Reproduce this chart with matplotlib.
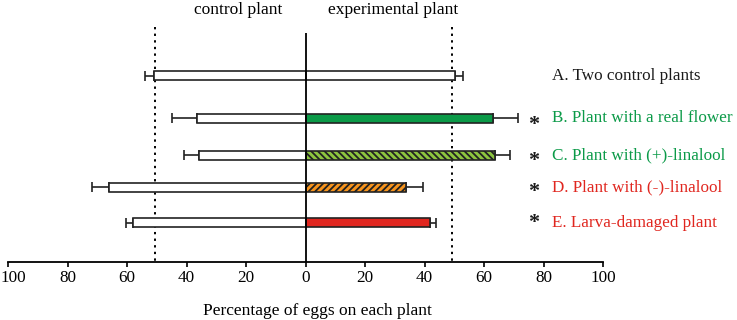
import matplotlib
matplotlib.use("Agg")
import matplotlib.pyplot as plt
import matplotlib.transforms as mtransforms

plt.rcParams["font.family"] = ["Liberation Serif", "DejaVu Serif"]
plt.rcParams["hatch.linewidth"] = 1.3

# data (percent of eggs)
labels = [
    "A. Two control plants",
    "B. Plant with a real flower",
    "C. Plant with (+)-linalool",
    "D. Plant with (-)-linalool",
    "E. Larva-damaged plant",
]
control_mean = [50.8, 36.6, 35.7, 66.0, 58.1]
control_err = [3.2, 8.4, 5.0, 5.6, 2.2]
exp_mean = [50.2, 63.1, 63.6, 33.9, 41.9]
exp_err = [2.6, 8.3, 5.2, 5.5, 2.1]
significant = [False, True, True, True, True]
ref_lines = [-50.6, 49.4]
tick_values = [-100, -80, -60, -40, -20, 0, 20, 40, 60, 80, 100]

# styling
bar_colors = ["white", "#0b9a48", "#8dc63f", "#f7941d", "#e0261f"]
bar_hatch = [None, None, "\\\\\\\\\\", "/////", None]
text_colors = ["#1a1a1a", "#0b9a48", "#0b9a48", "#e0261f", "#e0261f"]
row_y = [75.5, 118.4, 155.3, 187.2, 222.7]
star_y = [0, 125.5, 161.0, 192.0, 222.5]
bar_h = 9

fig = plt.figure(figsize=(7.37, 3.2), dpi=100)
ax = fig.add_axes([8 / 737, 58 / 320, 595 / 737, 242 / 320])

edge = "#222222"
for i in range(len(labels)):
    y = row_y[i]
    ax.barh(y, -control_mean[i], height=bar_h, color="white",
            edgecolor=edge, linewidth=1.2, zorder=3)
    ax.barh(y, exp_mean[i], height=bar_h, color=bar_colors[i],
            edgecolor=edge, linewidth=1.2, hatch=bar_hatch[i], zorder=3)
    ax.errorbar(-control_mean[i], y, xerr=[[control_err[i]], [0]],
                fmt="none", ecolor=edge, elinewidth=1.2, capsize=3.6,
                capthick=1.2, zorder=2)
    ax.errorbar(exp_mean[i], y, xerr=[[0], [exp_err[i]]],
                fmt="none", ecolor=edge, elinewidth=1.2, capsize=3.6,
                capthick=1.2, zorder=2)
    ax.text(82.9, y, labels[i], color=text_colors[i], fontsize=12.3,
            ha="left", va="center", clip_on=False)
    if significant[i]:
        ax.text(76.8, star_y[i], "*", color="#1a1a1a", fontsize=16,
                fontweight="bold", ha="center", va="center", clip_on=False)

ax.vlines(0, 33, 262, color="black", linewidth=1.3, zorder=4)
for xr in ref_lines:
    ax.vlines(xr, 27, 262, color="black", linewidth=1.4,
              linestyles=(0, (1.2, 2.2)), zorder=1)

ax.text(-22.6, 14, "control plant", fontsize=12.5, ha="center",
        va="baseline")
ax.text(29.5, 14, "experimental plant", fontsize=12.5, ha="center",
        va="baseline")

ax.set_xlim(-100, 100)
ax.set_ylim(262, 20)
ax.set_xticks(tick_values)
ax.set_xticklabels([str(abs(v)) for v in tick_values])
ax.tick_params(axis="x", direction="out", length=3.5, width=1.2,
               pad=2.5, labelsize=12.3)
ax.set_yticks([])
for side in ["left", "right", "top"]:
    ax.spines[side].set_visible(False)
ax.spines["bottom"].set_linewidth(1.3)
ax.patch.set_visible(False)

# leftmost "100" starts at the figure edge in the original
first = ax.get_xticklabels()[0]
first.set_horizontalalignment("left")
first.set_transform(first.get_transform() + mtransforms.ScaledTranslation(
    -7 / 100, 0, fig.dpi_scale_trans))

fig.text(317 / 737, 5 / 320, "Percentage of eggs on each plant",
         fontsize=12.5, ha="center", va="baseline")

fig.savefig("out.png", dpi=100)
